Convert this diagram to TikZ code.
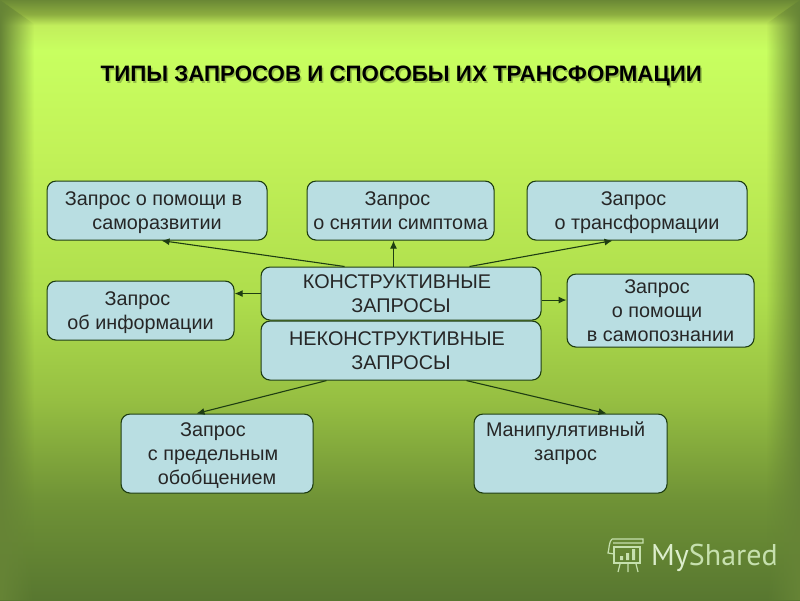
\documentclass[tikz,border=0pt]{standalone}
\usepackage{fontspec}
\setmainfont{Liberation Sans}
\newfontfamily\wmfont{PT Sans}
\usetikzlibrary{arrows.meta,fadings}
\definecolor{boxfill}{HTML}{B9DEE2}
\definecolor{boxline}{HTML}{1E3D12}
\definecolor{wm}{HTML}{C6E0AE}
\definecolor{wmb}{HTML}{DCEDCC}
\definecolor{edgegreen}{HTML}{668436}
\definecolor{bgA}{HTML}{6A8835}
\definecolor{bgB}{HTML}{8DAE40}
\definecolor{bgC}{HTML}{C2EE5C}
\definecolor{bgD}{HTML}{C8FF60}
\definecolor{bgE}{HTML}{C2F258}
\definecolor{bgF}{HTML}{AEDD4C}
\definecolor{bgG}{HTML}{96BF42}
\definecolor{bgH}{HTML}{6F9236}
\definecolor{bgI}{HTML}{587730}
\pgfdeclareverticalshading{bgshade}{100bp}{
 color(0bp)=(bgI); color(25bp)=(bgI); color(33.3bp)=(bgH); color(41.7bp)=(bgG);
 color(50bp)=(bgF); color(62.5bp)=(bgE); color(70.8bp)=(bgD); color(72.9bp)=(bgC);
 color(73.8bp)=(bgB); color(75bp)=(bgA); color(100bp)=(bgA)}
\tikzfading[name=edgeleft,left color=transparent!0,right color=transparent!100]
\tikzfading[name=edgeright,right color=transparent!0,left color=transparent!100]
\newcommand\qs{\rule[-5.5pt]{0pt}{24pt}}
\newcommand\ql[1]{\hspace*{-#1pt}}
\tikzset{
 qbox/.style={draw=boxline,line width=1.1pt,fill=boxfill,rounded corners=9pt,inner sep=0pt,
   align=center,font=\fontsize{19.8pt}{24pt}\selectfont,text=black!85,anchor=north west},
 conn/.style={draw=boxline,line width=1.1pt,-{Latex[length=8pt,width=7pt]}},
 wmline/.style={draw=wm,line width=1.2pt},
 titletext/.style={font=\fontsize{22.3pt}{24pt}\selectfont\bfseries},
}
\begin{document}
\begin{tikzpicture}[x=1pt,y=-1pt]
\useasboundingbox (0,0) rectangle (800,600);
\shade[shading=bgshade] (0,0) rectangle (800,600);
\fill[edgegreen,path fading=edgeleft] (0,0) -- (34,24) -- (34,600) -- (0,600) -- cycle;
\fill[edgegreen,path fading=edgeright] (800,0) -- (766,24) -- (766,600) -- (800,600) -- cycle;
% title
\node[titletext,text=black!25!bgD] (titleshadow) at (402.8,77.5) {ТИПЫ ЗАПРОСОВ И СПОСОБЫ ИХ ТРАНСФОРМАЦИИ};
\node[titletext,text=black] (title) at (401.3,76) {ТИПЫ ЗАПРОСОВ И СПОСОБЫ ИХ ТРАНСФОРМАЦИИ};
% boxes
\node[qbox,minimum width=220pt,minimum height=59pt] (help) at (46.5,180.5) {\ql{7}\qs Запрос о помощи в\\\qs саморазвитии};
\node[qbox,minimum width=187pt,minimum height=59pt] (symp) at (306.5,180.5) {\ql{6}\qs Запрос\\\qs о снятии симптома};
\node[qbox,minimum width=220pt,minimum height=59pt] (trans) at (526.5,180.5) {\ql{7}\qs Запрос\\\qs о трансформации};
\node[qbox,minimum width=187pt,minimum height=59pt] (info) at (46.5,280.5) {\ql{6}\qs Запрос\\\qs об информации};
\node[qbox,minimum width=280pt,minimum height=53pt] (kon) at (260.5,266.5) {\ql{8}\qs КОНСТРУКТИВНЫЕ\\\qs ЗАПРОСЫ};
\node[qbox,minimum width=280pt,minimum height=59pt] (nekon) at (260.5,320.5) {\ql{8}\qs НЕКОНСТРУКТИВНЫЕ\\\qs ЗАПРОСЫ};
\node[qbox,minimum width=187pt,minimum height=73pt] (self) at (566.5,273.5) {\ql{7}\qs Запрос\\\ql{7}\qs о помощи\\\qs в самопознании};
\node[qbox,minimum width=192pt,minimum height=79pt] (limit) at (120.5,413.5) {\ql{8}\qs Запрос\\\ql{8}\qs с предельным\\\qs обобщением};
\node[qbox,minimum width=193pt,minimum height=79pt] (manip) at (473.5,413.5) {\ql{10}\qs Манипулятивный\\\ql{10}\qs запрос\\\qs};
% connectors
\draw[conn] ([xshift=84pt]kon.north west) -- ([xshift=115pt]help.south west);
\draw[conn] ([xshift=133pt]kon.north west) -- ([xshift=87pt]symp.south west);
\draw[conn] ([xshift=209pt]kon.north west) -- ([xshift=86pt]trans.south west);
\draw[conn] (kon.west) -- ([yshift=17pt]info.east);
\draw[conn] ([yshift=-6.5pt]kon.east) -- ([yshift=10.5pt]self.west);
\draw[conn] ([xshift=66pt]nekon.south west) -- ([xshift=76pt]limit.north west);
\draw[conn] ([xshift=206pt]nekon.south west) -- ([xshift=133pt]manip.north west);
% watermark
\node[anchor=base west,inner sep=0pt,font=\wmfont\fontsize{30pt}{30pt}\selectfont] (wmtext) at (651,565) {\textcolor{wmb}{My}\textcolor{wm}{Shared}};
\draw[wmline] (614,547) rectangle (640,563);
\draw[wmline] (612,539) -- (643,539) -- (643,543) -- (613,543) (612,539) .. controls (609,541) and (609,550) .. (608,553) -- (614,554);
\draw[wmline] (620,564) -- (618,572) (628,564) -- (628,572) (636,564) -- (638,572);
\fill[wm] (620,556) rectangle (623,560) (626,553) rectangle (629,560) (632,549) rectangle (635,560);
\end{tikzpicture}
\end{document}
